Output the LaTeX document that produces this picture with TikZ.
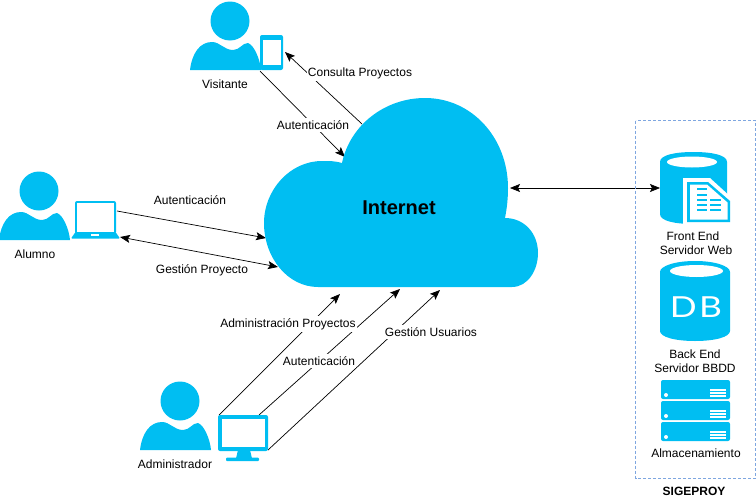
\documentclass[tikz,border=0pt]{standalone}
\usepackage{fontspec}
\usepackage{graphicx}
\setmainfont{Liberation Sans}
\newfontfamily\dbfont{Lato}
\usetikzlibrary{arrows.meta}
\definecolor{skyb}{HTML}{00BEF2}
\definecolor{dashb}{HTML}{7EA6E0}
\tikzset{
  lbl/.style={font=\fontsize{12}{14}\selectfont,text=black,inner sep=0pt},
  gaplbl/.style={lbl,fill=white,inner xsep=1pt,inner ysep=2.5pt},
  link/.style={draw=black,line width=0.7pt,-{Stealth[length=10pt,width=8pt,inset=2pt]}},
  biglink/.style={link,{Stealth[length=10pt,width=8pt,inset=2pt]}-{Stealth[length=10pt,width=8pt,inset=2pt]}},
  person/.pic={
    \fill[skyb] (0,0) circle[radius=19.5pt];
    \fill[skyb] (-40,49) .. controls (-38,32) and (-30,21) .. (-18,21)
      .. controls (-10,21) and (-6,29) .. (3,29)
      .. controls (10,29) and (12,22) .. (18,22)
      .. controls (24,24) and (30,38) .. (31,49) -- cycle;
  },
  server/.pic={
    \fill[skyb,rounded corners=2pt] (0,0) rectangle (69,19);
    \fill[white] (5,15) circle[radius=2pt];
    \foreach \yy in {10,13,16} \fill[white] (49,\yy-0.6) rectangle (65,\yy+0.6);
  }
}
\begin{document}
\begin{tikzpicture}[x=1pt,y=-1pt]
\useasboundingbox (0,0) rectangle (756,498);
% connector ends
\coordinate (visA) at (260,71);
\coordinate (cloudVA) at (345,157);
\coordinate (cloudVB) at (362,124);
\coordinate (phoneIn) at (285,52);
\coordinate (lapOut) at (117,211);
\coordinate (cloudAA) at (266,238);
\coordinate (lapIn) at (120,237);
\coordinate (cloudAB) at (278,267);
\coordinate (monA) at (219,415);
\coordinate (cloudMA) at (340,294);
\coordinate (monB) at (259,415);
\coordinate (cloudMB) at (400,289);
\coordinate (monC) at (268,450);
\coordinate (cloudMC) at (440,290);
\coordinate (cloudS) at (510,188);
\coordinate (frontIn) at (660,188);
% connectors
\draw[link] (visA) -- (cloudVA);
\draw[link] (cloudVB) -- (phoneIn);
\draw[link] (lapOut) -- (cloudAA);
\draw[biglink] (lapIn) -- (cloudAB);
\draw[link] (monA) -- (cloudMA);
\draw[link] (monB) -- (cloudMB);
\draw[link] (monC) -- (cloudMC);
\draw[biglink] (cloudS) -- (frontIn);
% cloud
\fill[skyb] (318,287) -- (512,287)
  .. controls (528,287) and (538,270) .. (538,253)
  .. controls (538,233) and (524,218) .. (505,218)
  .. controls (507,208) and (508,198) .. (508,188)
  .. controls (508,138) and (472,98) .. (425,98)
  .. controls (385,98) and (350,125) .. (342,163)
  .. controls (335,161) and (330,161) .. (322,161)
  .. controls (290,161) and (264,190) .. (264,223)
  .. controls (264,258) and (288,287) .. (318,287) -- cycle;
\node[font=\bfseries\fontsize{20}{22}\selectfont,inner sep=0pt] (internet) at (399,208) {Internet};
% persons
\pic at (230,21) {person};
\pic at (39,191) {person};
\pic at (180,401) {person};
% phone
\fill[skyb,rounded corners=2pt] (260,35) rectangle (283,70);
\fill[white] (262.5,39.5) rectangle (281,64.5);
% laptop
\fill[skyb,rounded corners=2pt] (75,201) rectangle (116,234);
\fill[white] (77,203) rectangle (114,232);
\fill[skyb,rounded corners=1pt] (71,238.5) -- (75.5,232) -- (115.5,232) -- (120,238.5) -- cycle;
\fill[white] (91,233.5) rectangle (99,236);
% monitor
\fill[skyb,rounded corners=2pt] (218,415) rectangle (268,451);
\fill[white] (222,419) rectangle (265,447);
\fill[skyb] (238,450) -- (250,450) -- (252,458.5) -- (236,458.5) -- cycle;
\fill[skyb,rounded corners=1pt] (226,457.5) rectangle (259,461);
% dashed group
\draw[dashb,line width=0.8pt,dash pattern=on 3pt off 2pt] (635.5,120.5) rectangle (755.5,478);
% front end cylinder
\fill[skyb] (660,162) .. controls (660,155) and (675,152) .. (693.5,152)
  .. controls (712,152) and (727,155) .. (727,162)
  -- (727,214) .. controls (727,221) and (712,224) .. (693.5,224)
  .. controls (675,224) and (660,221) .. (660,214) -- cycle;
\fill[white] (692,162) ellipse[x radius=25pt,y radius=5.5pt];
% document
\fill[white] (683,178) -- (710,178) -- (733,199) -- (733,225) -- (683,225) -- cycle;
\fill[skyb] (687,182) -- (708,182) -- (730,201) -- (730,222) -- (687,222) -- cycle;
\fill[white] (690,184.5) -- (707,184.5) -- (727.5,202.5) -- (727.5,219.5) -- (690,219.5) -- cycle;
\foreach \yy in {189,194.5,199.5,204.5,210}
  \fill[skyb] (697,\yy-1) rectangle (707,\yy+1);
\foreach \yy in {199.5,204.5,210}
  \fill[skyb] (710,\yy-1) rectangle (721,\yy+1);
% db cylinder
\fill[skyb] (660,272) .. controls (660,266) and (675,261) .. (695,261)
  .. controls (715,261) and (730,266) .. (730,272)
  -- (730,331) .. controls (730,337) and (715,341) .. (695,341)
  .. controls (675,341) and (660,337) .. (660,331) -- cycle;
\fill[white] (696.5,271) ellipse[x radius=26.5pt,y radius=6pt];
\node[font=\dbfont\fontsize{29}{31}\selectfont,text=white,inner sep=0pt] (dbtext) at (696,307.5) {\scalebox{1.22}[1]{D\hspace{2pt}B}};
% servers
\pic at (661,380) {server};
\pic at (661,401) {server};
\pic at (661,422) {server};
% labels
\node[gaplbl] (l1) at (313,125) {Autenticación};
\node[gaplbl] (l2) at (360,73) {Consulta Proyectos};
\node[lbl] (l3) at (190,200.5) {Autenticación};
\node[lbl] (l4) at (202,270) {Gestión Proyecto};
\node[gaplbl] (l5) at (288,324) {Administración Proyectos};
\node[gaplbl] (l6) at (319,361) {Autenticación};
\node[gaplbl] (l7) at (431,332) {Gestión Usuarios};
\node[lbl] (visitor) at (225,84) {Visitante};
\node[lbl] (student) at (35,254) {Alumno};
\node[lbl] (admin) at (175,464) {Administrador};
\node[lbl] (fe1) at (693,236) {Front End};
\node[lbl] (fe2) at (696,250) {Servidor Web};
\node[lbl] (be1) at (695,354) {Back End};
\node[lbl] (be2) at (695,368) {Servidor BBDD};
\node[lbl] (store) at (696,453) {Almacenamiento};
\node[font=\bfseries\fontsize{12}{14}\selectfont,inner sep=0pt] (sige) at (694,491) {SIGEPROY};
\end{tikzpicture}
\end{document}
